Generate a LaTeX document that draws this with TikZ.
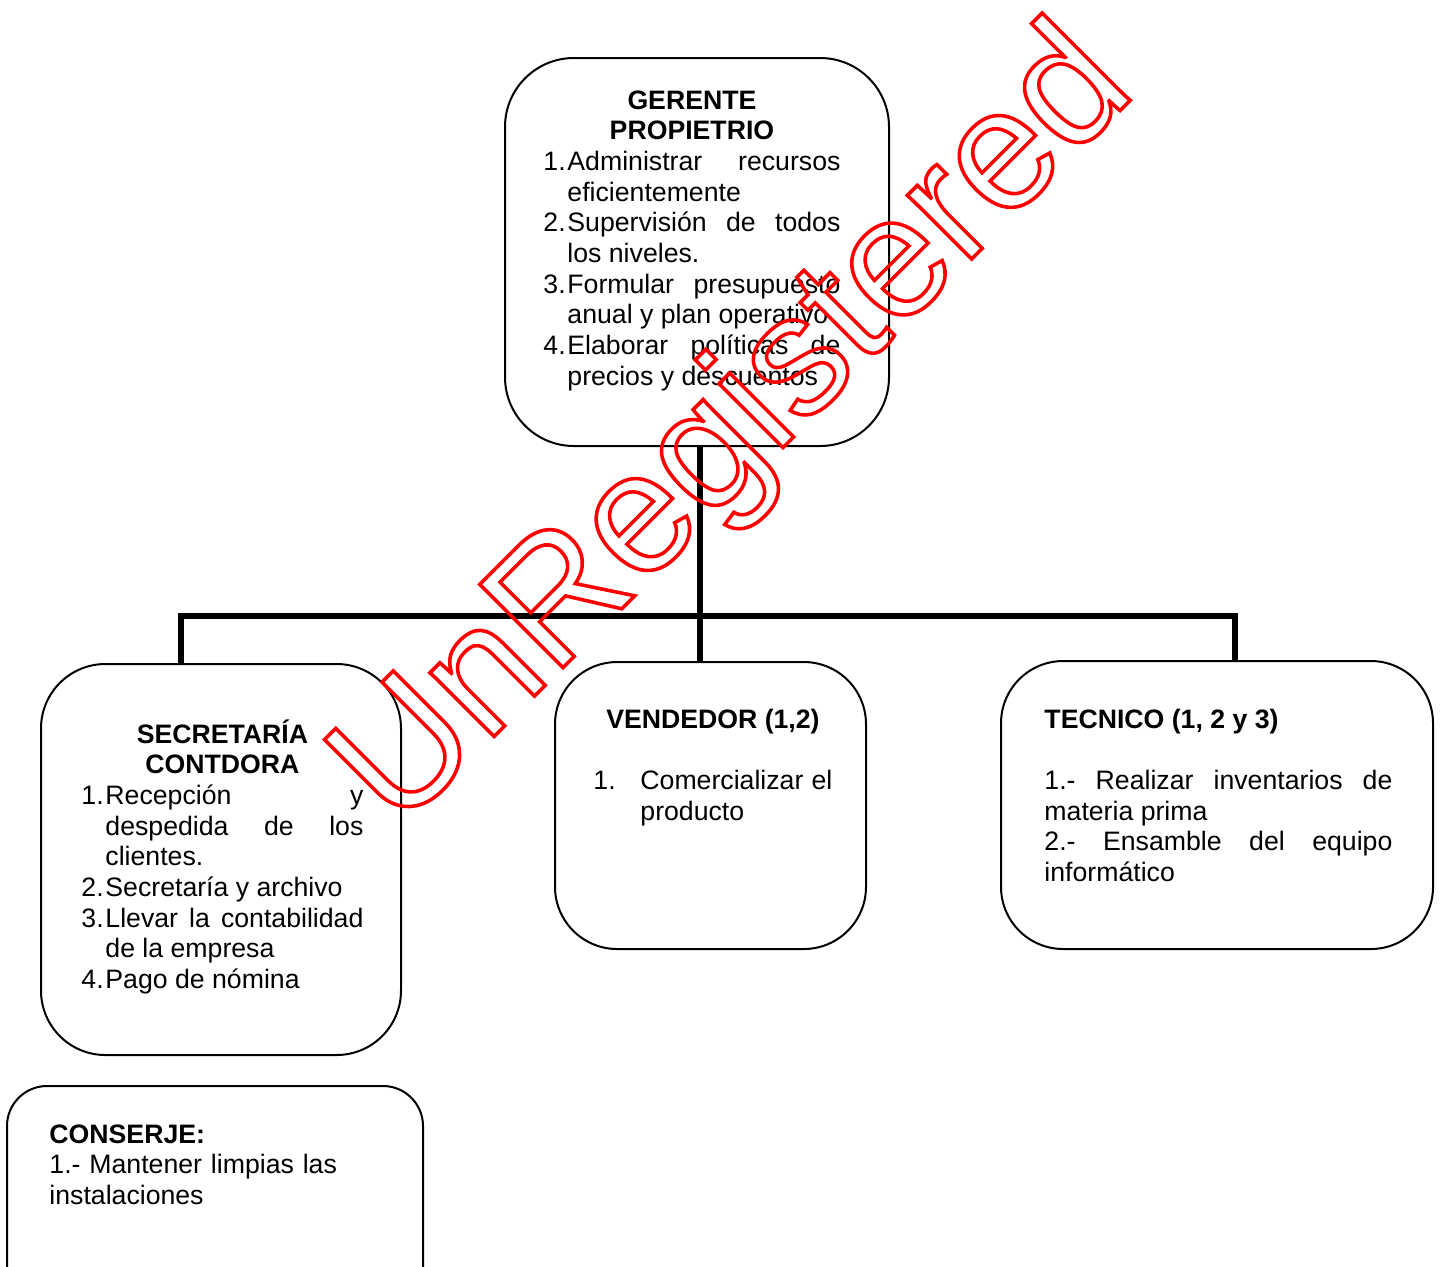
\documentclass[tikz,border=0pt]{standalone}
\usepackage{fontspec}
\setmainfont{Liberation Sans}
\usetikzlibrary{fit}

\newlength{\px}
\setlength{\px}{0.45pt}
\newlength{\hangw}
\newcommand{\numitem}[2]{\par\noindent\hangindent=\hangw\hangafter=1\makebox[\hangw][l]{#1}#2\par}
\newcommand{\boxtitle}[1]{{\centering\bfseries #1\par}}
\newcommand{\orgpar}{\parindent=0pt\hyphenpenalty=10000\exhyphenpenalty=10000\tolerance=10000}

\tikzset{
    org-box/.style = {draw=black, line width=0.9pt, rectangle, rounded corners=28pt, inner sep=0pt},
    org-text/.style = {inner sep=0pt, anchor=base west, align=justify, font=\fontsize{12}{13.8}\selectfont\orgpar},
    org-line/.style = {line width=2.3pt},
    watermark/.style = {text=red, inner sep=0pt, font=\fontsize{77}{82}\selectfont},
}

\begin{document}
\begin{tikzpicture}[x=0.45pt, y=-0.45pt]
\useasboundingbox (0,0) rectangle (1441,1266);

\node[org-box, rounded corners=31pt, fit={(505,58) (889,446)}] (gerente) {};
\node[org-text, text width=297\px] (gerente-txt) at (543,109) {%
    \boxtitle{GERENTE\\PROPIETRIO}
    \setlength{\hangw}{24\px}
    \numitem{1.}{Administrar recursos eficientemente}
    \numitem{2.}{Supervisión de todos los niveles.}
    \numitem{3.}{Formular presupuesto anual y plan operativo}
    \numitem{4.}{Elaborar políticas de precios y descuentos}
};

\node[org-box, rounded corners=29pt, fit={(41,664) (401,1055)}] (secretaria) {};
\node[org-text, text width=282\px] (secretaria-txt) at (81,743) {%
    \boxtitle{SECRETARÍA\\CONTDORA}
    \setlength{\hangw}{24\px}
    \numitem{1.}{Recepción y\linebreak despedida de los clientes.}
    \numitem{2.}{Secretaría y archivo}
    \numitem{3.}{Llevar la contabilidad de la empresa}
    \numitem{4.}{Pago de nómina}
};

\node[org-box, fit={(555,662) (866,949)}] (vendedor) {};
\node[org-text, text width=239\px] (vendedor-txt) at (593,728) {%
    \boxtitle{VENDEDOR (1,2)}
    \vskip\baselineskip
    \setlength{\hangw}{47\px}
    \numitem{1.}{Comercializar el producto}
};

\node[org-box, fit={(1001,661) (1433,949)}] (tecnico) {};
\node[org-text, text width=348\px] (tecnico-txt) at (1044,728) {%
    {\bfseries TECNICO (1, 2 y 3)\par}
    \vskip\baselineskip
    1.- Realizar inventarios de materia prima\par
    2.- Ensamble del equipo informático\par
};

\node[org-box, rounded corners=18pt, fit={(7,1086) (423,1310)}] (conserje) {};
\node[org-text, text width=340\px, align=left] (conserje-txt) at (49,1143) {%
    {\bfseries CONSERJE:}\\
    1.- Mantener limpias las instalaciones
};

\coordinate (hub) at (700,616);
\coordinate (left-drop) at (181,616);
\coordinate (right-drop) at (1235,616);
\draw[org-line] (hub |- gerente.south) -- (hub |- vendedor.north);
\draw[org-line] (left-drop |- secretaria.north) -- (left-drop) -- (right-drop) -- (right-drop |- tecnico.north);

\node[watermark, rotate=45] (unregistered) at (737,431) {\special{pdf:literal direct 1 Tr 1.6 w}UnRegistered\special{pdf:literal direct 0 Tr}};
\end{tikzpicture}
\end{document}
